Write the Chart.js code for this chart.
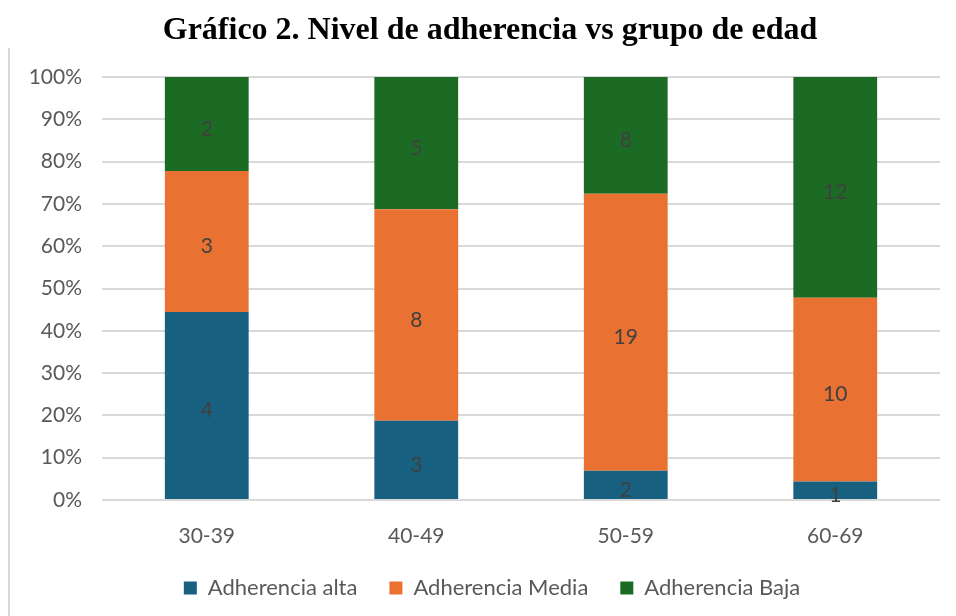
<!DOCTYPE html>
<html>
<head>
<meta charset="utf-8">
<script src="https://cdn.jsdelivr.net/npm/chart.js@4"></script>
<style>
  html, body { margin: 0; padding: 0; background: #fff; }
  #wrap { position: relative; width: 956px; height: 616px; }
  #frame { position: absolute; left: 8px; top: 48px; bottom: 0; border-left: 2px solid #d9d9d9; }
</style>
</head>
<body>
<div id="wrap">
  <div id="frame"></div>
  <canvas id="chart" width="956" height="616"></canvas>
</div>
<script>
// Age groups and counts per adherence level
const ageGroups = ['30-39', '40-49', '50-59', '60-69'];
const alta = [4, 3, 2, 1];
const media = [3, 8, 19, 10];
const baja = [2, 5, 8, 12];

const chartTitle = 'Gráfico 2. Nivel de adherencia vs grupo de edad';

const totals = ageGroups.map((g, i) => alta[i] + media[i] + baja[i]);
const pct = arr => arr.map((v, i) => v / totals[i] * 100);

const labelFont = 'Lato, "Open Sans", sans-serif';

// Title sits a bit right of the canvas centre, like in the original
const titlePlugin = {
    id: 'titleText',
    afterLayout(chart) {
        // nudge the legend to the right as well
        chart.legend.left += 22;
        chart.legend.right += 22;
    },
    afterDraw(chart) {
        const ctx = chart.ctx;
        ctx.save();
        ctx.font = 'bold 32px "Liberation Serif", "Times New Roman", serif';
        ctx.fillStyle = '#000';
        ctx.textAlign = 'center';
        ctx.textBaseline = 'alphabetic';
        ctx.fillText(chartTitle, 490, 39);
        ctx.restore();
    }
};

// Draw the raw counts in the middle of each segment
const countLabels = {
    id: 'countLabels',
    afterDatasetsDraw(chart) {
        const ctx = chart.ctx;
        ctx.save();
        ctx.font = '21px ' + labelFont;
        ctx.fillStyle = '#404040';
        ctx.textAlign = 'center';
        ctx.textBaseline = 'middle';
        chart.data.datasets.forEach((ds, di) => {
            const meta = chart.getDatasetMeta(di);
            meta.data.forEach((bar, i) => {
                const p = bar.getCenterPoint();
                ctx.fillText(ds.counts[i], p.x, p.y + 5);
            });
        });
        ctx.restore();
    }
};

const ctx = document.getElementById('chart').getContext('2d');
new Chart(ctx, {
    type: 'bar',
    data: {
        labels: ageGroups,
        datasets: [
            { label: 'Adherencia alta', data: pct(alta), counts: alta, backgroundColor: '#17607f' },
            { label: 'Adherencia Media', data: pct(media), counts: media, backgroundColor: '#e97132' },
            { label: 'Adherencia Baja', data: pct(baja), counts: baja, backgroundColor: '#1b6b24' }
        ]
    },
    options: {
        responsive: false,
        animation: false,
        layout: { padding: { left: 0, right: 16, top: 77, bottom: 7 } },
        datasets: { bar: { barPercentage: 0.4, categoryPercentage: 1 } },
        plugins: {
            title: { display: false },
            legend: {
                position: 'bottom',
                labels: {
                    boxWidth: 13,
                    boxHeight: 13,
                    padding: 32,
                    color: '#595959',
                    font: { family: labelFont, size: 22 }
                }
            },
            tooltip: { enabled: false }
        },
        scales: {
            x: {
                stacked: true,
                afterFit(scale) { scale.height = 45; },
                grid: { display: false },
                border: { display: false },
                ticks: {
                    color: '#595959',
                    padding: 16,
                    font: { family: labelFont, size: 21 }
                }
            },
            y: {
                stacked: true,
                min: 0,
                max: 100,
                afterFit(scale) { scale.width = 102; },
                grid: { color: '#d9d9d9', lineWidth: 2, drawTicks: false },
                border: { display: false },
                ticks: {
                    stepSize: 10,
                    padding: 20,
                    color: '#595959',
                    font: { family: labelFont, size: 21 },
                    callback: v => v + '%'
                }
            }
        }
    },
    plugins: [countLabels, titlePlugin]
});
</script>
</body>
</html>
